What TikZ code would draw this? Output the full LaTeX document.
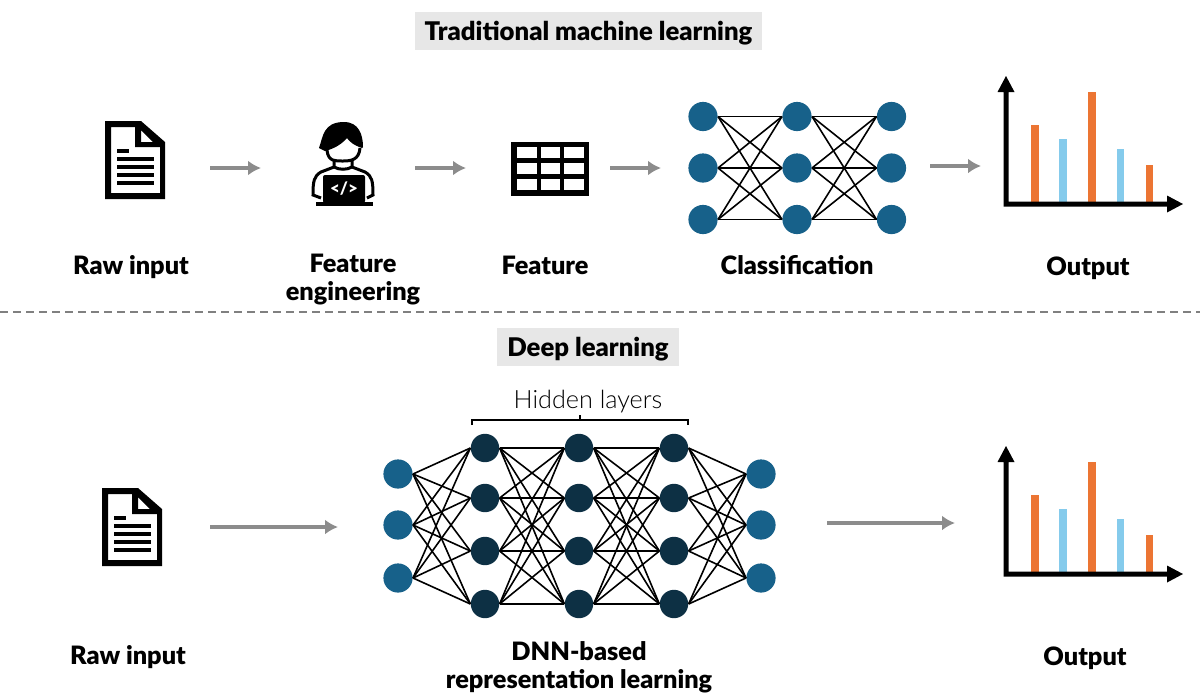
\documentclass[tikz,border=0pt]{standalone}
\usepackage{fontspec}
\setmainfont{Lato}
\newfontfamily\heavyfont{Lato Black}
\newfontfamily\lightfont{Lato Light}
\usepackage{tikz}
\usetikzlibrary{positioning,arrows.meta}
\definecolor{outerblue}{HTML}{17618A}
\definecolor{innerblue}{HTML}{0D3044}
\definecolor{barorange}{HTML}{EC7533}
\definecolor{barblue}{HTML}{85CBEC}
\definecolor{arrowgray}{HTML}{8C8C8C}
\definecolor{titlegray}{HTML}{E7E7E7}
\tikzset{
    outernode/.style={circle, fill=outerblue, minimum size=14.6pt, inner sep=0pt},
    innernode/.style={circle, fill=innerblue, minimum size=14.2pt, inner sep=0pt},
    edgeline/.style={black, line width=0.8pt},
    flowarrow/.style={arrowgray, line width=2pt, -{Latex[length=6.5pt,width=7.5pt]}},
    titlebox/.style={fill=titlegray, font=\heavyfont\fontsize{12.85}{15}\selectfont, text height=11pt, text depth=1.5pt, inner ysep=3.25pt, inner xsep=5pt},
    steplabel/.style={font=\heavyfont\fontsize{12.65}{14}\selectfont, align=center},
    docicon/.pic={
        \fill[even odd rule] (-30,-39) -- (6,-39) -- (30,-18) -- (30,39) -- (-30,39) -- cycle
            (-24,-33) -- (0,-33) -- (0,-13) -- (25,-13) -- (25,33) -- (-24,33) -- cycle
            (6,-30) -- (18,-18) -- (6,-18) -- cycle;
        \foreach \yy in {-1,7,15,23} \fill (-18,\yy-1.8) rectangle (19,\yy+1.8);
        \fill (-18,-10.8) rectangle (-6,-7.2);
    },
    chartpic/.pic={
        \fill[barorange] (25,-79) rectangle (33,-2);
        \fill[barblue] (53,-65) rectangle (61,-2);
        \fill[barorange] (82,-112) rectangle (90,-2);
        \fill[barblue] (111,-55) rectangle (118,-2);
        \fill[barorange] (140,-39) rectangle (147,-2);
        \fill[black] (0,-128) -- (8.5,-112) -- (2.5,-112) -- (2.5,-2.5) -- (161,-2.5) -- (161,-8.5) -- (177,0) -- (161,8.5) -- (161,2.5) -- (-2.5,2.5) -- (-2.5,-112) -- (-8.5,-112) -- cycle;
    },
}
\begin{document}
\begin{tikzpicture}[x=0.5pt, y=-0.5pt]
    \useasboundingbox (0,0) rectangle (1200,692);

    %Titles
    \node[titlebox] (toptitle) at (588.5,31) {Traditional machine learning};
    \node[titlebox] (deeptitle) at (588,347) {Deep learning};
    \draw[gray, line width=0.6pt, dash pattern=on 4pt off 2.5pt] (0,312) -- (1200,312);

    %Top row icons
    \pic at (135,160) {docicon};
    % person
    \begin{scope}[shift={(343,165)}]
        \fill (-18,-14) -- (-24,-17) .. controls (-20,-28) and (-20,-43) .. (1,-43) .. controls (16,-43) and (20,-30) .. (20,-18) -- (19,-17) .. controls (10,-20) and (6,-24) .. (4,-27) .. controls (-2,-20) and (-10,-16) .. (-18,-14) -- cycle;
        \draw[line width=1.5pt] (-16,-15) .. controls (-15,-3) and (-7,-4) .. (0,-4) .. controls (8,-4) and (16,-5) .. (17,-17);
        \draw[line width=1.5pt] (-9,-4) -- (-9,2) .. controls (-4,5) and (4,5) .. (9,2) -- (9,-4);
        \draw[line width=1.5pt] (-9,2) -- (-22,7) .. controls (-29,11) and (-30,16) .. (-30,30) -- (-22,33);
        \draw[line width=1.5pt] (9,2) -- (22,7) .. controls (29,11) and (30,16) .. (30,30) -- (24,33);
        \fill[rounded corners=1pt] (-20,10) rectangle (22,38);
        \fill (-27,37) rectangle (30,41);
        \node[white, font=\heavyfont\fontsize{8.5}{9}\selectfont] (codetext) at (1,24) {</>};
    \end{scope}
    % table
    \fill (511,142) rectangle (589,196);
    \foreach \xx in {517,540.5,564}
        \foreach \yy in {147,163,179}
            \fill[white] (\xx,\yy) rectangle (\xx+19.5,\yy+11);

    %Nets
    \foreach \xx/\nm in {703/a,797/b,891.5/c}
        \foreach \yy/\ii in {116.5/1,168/2,219.5/3}
            \node[outernode] (\nm\ii) at (\xx,\yy) {};
    \foreach \nm/\nx in {a/b,b/c}
        \foreach \ii in {1,2,3}
            \foreach \jj in {1,2,3}
                \draw[edgeline] (\nm\ii.east) -- (\nx\jj.west);

    \foreach \yy/\ii in {474/1,525/2,578/3} {
        \node[outernode] (p\ii) at (398,\yy) {};
        \node[outernode] (t\ii) at (761,\yy) {};
    }
    \foreach \xx/\nm in {485/q,579/r,674/s}
        \foreach \yy/\ii in {448/1,498/2,551/3,604/4}
            \node[innernode] (\nm\ii) at (\xx,\yy) {};
    \foreach \ii in {1,2,3}
        \foreach \jj in {1,2,3,4} {
            \draw[edgeline] (p\ii.east) -- (q\jj.west);
            \draw[edgeline] (s\jj.east) -- (t\ii.west);
        }
    \foreach \nm/\nx in {q/r,r/s}
        \foreach \ii in {1,2,3,4}
            \foreach \jj in {1,2,3,4}
                \draw[edgeline] (\nm\ii.east) -- (\nx\jj.west);

    %Hidden layers
    \node[font=\lightfont\fontsize{12.6}{14}\selectfont] (hiddenlabel) at (588,402) {Hidden layers};
    \draw[line width=0.6pt] (472,425) -- (472,420) -- (688,420) -- (688,425) (580,420) -- (580,415);

    %Charts
    \pic at (1006,204) {chartpic};
    \pic at (1006,574) {chartpic};
    \pic at (132,527) {docicon};

    %Arrows
    \coordinate (a1s) at (210,168);
    \coordinate (a1e) at (261,168);
    \coordinate (a2s) at (415,168);
    \coordinate (a2e) at (466,168);
    \coordinate (a3s) at (610,168);
    \coordinate (a3e) at (661,168);
    \coordinate (a4s) at (930,166);
    \coordinate (a4e) at (981,166);
    \coordinate (b1s) at (210,527);
    \coordinate (b1e) at (338,527);
    \coordinate (b2s) at (827,523);
    \coordinate (b2e) at (955,523);
    \draw[flowarrow] (a1s) -- (a1e);
    \draw[flowarrow] (a2s) -- (a2e);
    \draw[flowarrow] (a3s) -- (a3e);
    \draw[flowarrow] (a4s) -- (a4e);
    \draw[flowarrow] (b1s) -- (b1e);
    \draw[flowarrow] (b2s) -- (b2e);

    %Labels
    \node[steplabel] (rawone) at (131,267) {Raw input};
    \node[steplabel] (feateng) at (353,280) {Feature\\engineering};
    \node[steplabel] (feat) at (545,265) {Feature};
    \node[steplabel] (classif) at (797,265) {Classification};
    \node[steplabel] (outone) at (1088,268) {Output};
    \node[steplabel] (rawtwo) at (128,657) {Raw input};
    \node[steplabel] (dnn) at (579,667) {DNN-based\\representation learning};
    \node[steplabel] (outtwo) at (1085,658) {Output};
\end{tikzpicture}
\end{document}
